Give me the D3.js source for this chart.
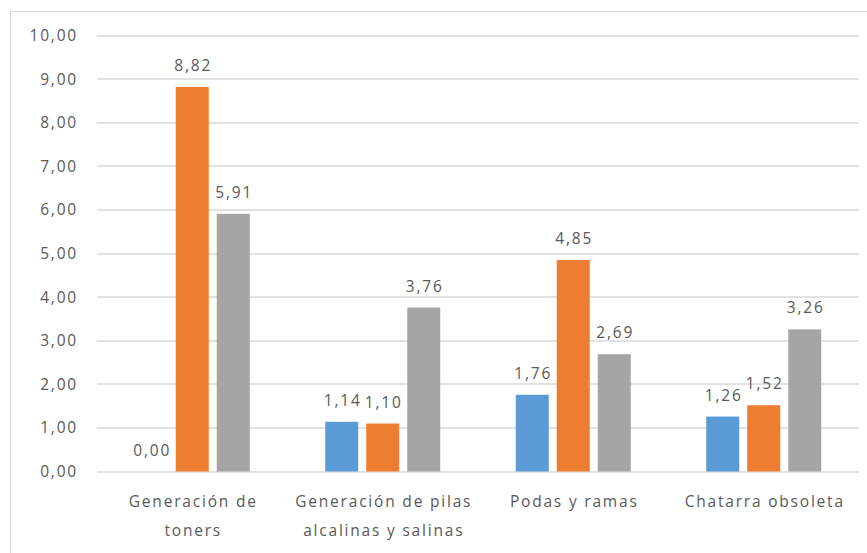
<!DOCTYPE html>
<html>
<head>
<meta charset="utf-8">
<script src="https://cdn.jsdelivr.net/npm/d3@7"></script>
<style>
  body { margin: 0; background: #fff; }
  svg text { font-family: "Open Sans", sans-serif; fill: #595959; font-size: 15.5px; letter-spacing: 1.8px; }
</style>
</head>
<body>
<script>
var width = 867;
var height = 553;

var categories = [['Generación de', 'toners'], ['Generación de pilas', 'alcalinas y salinas'], ['Podas y ramas'], ['Chatarra obsoleta']];
var series1 = [0.00, 1.14, 1.76, 1.26];
var series2 = [8.82, 1.10, 4.85, 1.52];
var series3 = [5.91, 3.76, 2.69, 3.26];
var yTicks = [0, 1, 2, 3, 4, 5, 6, 7, 8, 9, 10];
var colors = ['#5B9BD5', '#ED7D31', '#A5A5A5'];

var allSeries = [series1, series2, series3];
var fmt = function(v){ return d3.format('.2f')(v).replace('.', ','); };

var svg = d3.select('body').append('svg')
  .attr('width', width)
  .attr('height', height);

// chart border
svg.append('rect')
  .attr('x', 10.5).attr('y', 11.5)
  .attr('width', width + 20).attr('height', height + 20)
  .attr('fill', 'none').attr('stroke', '#D9D9D9');

var plotL = 97, plotR = 859, plotT = 35.5, plotB = 471.5;

var y = d3.scaleLinear().domain([0, 10]).range([plotB, plotT]);
var x0 = d3.scaleBand().domain(d3.range(categories.length)).range([plotL, plotR]).padding(0);

var barW = 33, gap = 8;
var x1 = d3.scaleBand().domain([0, 1, 2])
  .range([-(3 * barW + 2 * gap) / 2, (3 * barW + 2 * gap) / 2])
  .paddingInner(gap / (barW + gap)).paddingOuter(0);

// gridlines
svg.append('g').selectAll('line')
  .data(yTicks).enter().append('line')
  .attr('x1', plotL).attr('x2', plotR)
  .attr('y1', d => Math.round(y(d)))
  .attr('y2', d => Math.round(y(d)))
  .attr('stroke', '#D9D9D9').attr('stroke-width', 1.5);

// y labels
svg.append('g').selectAll('text')
  .data(yTicks).enter().append('text')
  .attr('x', 78).attr('y', d => y(d))
  .attr('dy', '0.35em')
  .attr('text-anchor', 'end')
  .text(fmt);

// bars
var groups = svg.append('g').selectAll('g')
  .data(allSeries).enter().append('g')
  .attr('fill', (d, i) => colors[i]);

groups.each(function(s, si){
  var g = d3.select(this);
  g.selectAll('rect').data(s).enter().append('rect')
    .attr('x', (d, ci) => x0(ci) + x0.bandwidth() / 2 + x1(si))
    .attr('width', x1.bandwidth())
    .attr('y', d => y(d))
    .attr('height', d => y(0) - y(d));
  g.selectAll('text').data(s).enter().append('text')
    .attr('x', (d, ci) => x0(ci) + x0.bandwidth() / 2 + x1(si) + x1.bandwidth() / 2 + 1)
    .attr('y', d => y(d) - 16)
    .attr('text-anchor', 'middle')
    .text(fmt);
});

// category labels
var cat = svg.append('g').selectAll('text')
  .data(categories).enter().append('text')
  .attr('x', (d, i) => x0(i) + x0.bandwidth() / 2 + 1)
  .attr('y', 507)
  .attr('text-anchor', 'middle');
cat.selectAll('tspan').data(d => d).enter().append('tspan')
  .attr('x', function(){ return d3.select(this.parentNode).attr('x'); })
  .attr('dy', (d, i) => i === 0 ? 0 : 29)
  .text(d => d);
</script>
</body>
</html>
